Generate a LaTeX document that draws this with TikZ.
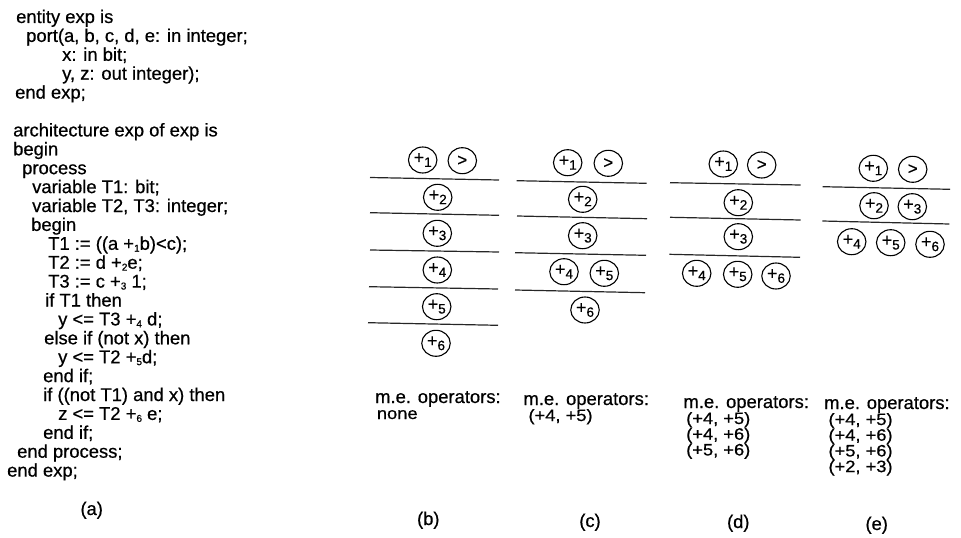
\documentclass[tikz,border=0pt]{standalone}
\usepackage{fontspec}
\setmainfont{Liberation Sans}[FakeBold=0.6]
\usetikzlibrary{shapes.geometric}
\newcommand\codefont{\fontsize{18.4}{18.9}\selectfont}
\newcommand\listfont{\fontsize{16.5}{16.5}\selectfont}
\newcommand\lst[1]{\scalebox{1.11}[1]{#1}}
\newcommand\subplus[1]{+\raisebox{-0.2ex}{\fontsize{10}{10}\selectfont #1}}
\newcommand\opplus[1]{{\fontsize{18}{18}\selectfont +\raisebox{-0.35ex}{\fontsize{13.5}{13.5}\selectfont #1}}}
\newcommand\opgt{{\fontsize{17}{17}\selectfont >}}
\tikzset{
  code/.style={anchor=base west, inner sep=0pt, font=\codefont},
  item/.style={anchor=base west, inner sep=0pt, font=\listfont},
  lbl/.style={anchor=base, inner sep=0pt, font=\codefont},
  op/.style={ellipse, draw, line width=1.1pt, minimum width=28.5pt, minimum height=26pt, inner sep=0pt},
  sepline/.style={line width=1.2pt, draw=black!85},
}
\begin{document}
\begin{tikzpicture}[x=1pt,y=-1pt]
\useasboundingbox (0,0) rectangle (961,538);
% ---------- (a) code ----------
\node[code] (l0)  at (16,23.0)  {entity exp is};
\node[code] (l1)  at (26,41.9)  {port(a, b, c, d, e: in integer;};
\node[code] (l2)  at (62,60.8)  {x: in bit;};
\node[code] (l3)  at (62,79.7)  {y, z: out integer);};
\node[code] (l4)  at (15,98.6)  {end exp;};
\node[code] (l6)  at (13,136.4) {architecture exp of exp is};
\node[code] (l7)  at (13,155.3) {begin};
\node[code] (l8)  at (22,174.2) {process};
\node[code] (l9)  at (32,193.1) {variable T1: bit;};
\node[code] (l10) at (32,212.0) {variable T2, T3: integer;};
\node[code] (l11) at (31,230.9) {begin};
\node[code] (l12) at (48,249.8) {T1 := ((a \subplus{1}b)<c);};
\node[code] (l13) at (48,268.7) {T2 := d \subplus{2}e;};
\node[code] (l14) at (48,287.6) {T3 := c \subplus{3} 1;};
\node[code] (l15) at (45,306.5) {if T1 then};
\node[code] (l16) at (58,325.4) {y <= T3 \subplus{4} d;};
\node[code] (l17) at (44,344.3) {else if (not x) then};
\node[code] (l18) at (58,363.2) {y <= T2 \subplus{5}d;};
\node[code] (l19) at (43,382.1) {end if;};
\node[code] (l20) at (43,401.0) {if ((not T1) and x) then};
\node[code] (l21) at (58,419.9) {z <= T2 \subplus{6} e;};
\node[code] (l22) at (43,438.8) {end if;};
\node[code] (l23) at (17,457.7) {end process;};
\node[code] (l24) at (7,476.6)  {end exp;};
\node[lbl] (la) at (91.7,515) {(a)};
% ---------- (b) ----------
\node[op] (b1) at (422.7,160) {\opplus{1}};
\node[op] (bg) at (462.3,160.7) {\opgt};
\draw[sepline] (370,177.5) -- (499,180);
\node[op] (b2) at (437.7,197.3) {\opplus{2}};
\draw[sepline] (370,212.7) -- (499,215.3);
\node[op] (b3) at (437.3,233.3) {\opplus{3}};
\draw[sepline] (370,250) -- (499,252);
\node[op] (b4) at (437.3,270) {\opplus{4}};
\draw[sepline] (369,286.7) -- (498,289);
\node[op] (b5) at (436.7,306.7) {\opplus{5}};
\draw[sepline] (368,322.7) -- (498,325.3);
\node[op] (b6) at (436,343.3) {\opplus{6}};
\node[code] (bt1) at (375,403) {m.e. operators:};
\node[item] (bt2) at (376.7,419) {\lst{none}};
\node[lbl] (lb) at (428.3,525) {(b)};
% ---------- (c) ----------
\node[op] (c1) at (567.7,162.7) {\opplus{1}};
\node[op] (cg) at (608.3,163.3) {\opgt};
\draw[sepline] (516.7,180.7) -- (646.7,183.3);
\node[op] (c2) at (582.7,199.3) {\opplus{2}};
\draw[sepline] (517,216) -- (647,218.7);
\node[op] (c3) at (582.7,235.7) {\opplus{3}};
\draw[sepline] (515,252.7) -- (646,255.3);
\node[op] (c4) at (564,271.7) {\opplus{4}};
\node[op] (c5) at (604.3,273.3) {\opplus{5}};
\draw[sepline] (515,290) -- (645,292.7);
\node[op] (c6) at (585,310) {\opplus{6}};
\node[code] (ct1) at (523.3,405) {m.e. operators:};
\node[item] (ct2) at (528.3,421) {\lst{(+4, +5)}};
\node[lbl] (lc) at (590,527) {(c)};
% ---------- (d) ----------
\node[op] (d1) at (723.3,164) {\opplus{1}};
\node[op] (dg) at (761.7,165) {\opgt};
\draw[sepline] (670,182.7) -- (800.7,185);
\node[op] (d2) at (738.3,202.7) {\opplus{2}};
\draw[sepline] (670,217.3) -- (800.7,220);
\node[op] (d3) at (738.3,236.7) {\opplus{3}};
\draw[sepline] (669.3,254.3) -- (800,257.3);
\node[op] (d4) at (696.7,273.3) {\opplus{4}};
\node[op] (d5) at (737.7,274.3) {\opplus{5}};
\node[op] (d6) at (776,276) {\opplus{6}};
\node[code] (dt1) at (683.3,408) {m.e. operators:};
\node[item] (dt2) at (686,424) {\lst{(+4, +5)}};
\node[item] (dt3) at (686,439.7) {\lst{(+4, +6)}};
\node[item] (dt4) at (686,455.4) {\lst{(+5, +6)}};
\node[lbl] (ld) at (738.3,528) {(d)};
% ---------- (e) ----------
\node[op] (e1) at (873.3,168.3) {\opplus{1}};
\node[op] (eg) at (912.7,169.3) {\opgt};
\draw[sepline] (822.7,186.7) -- (950,189.3);
\node[op] (e2) at (874,205.7) {\opplus{2}};
\node[op] (e3) at (912.3,206.7) {\opplus{3}};
\draw[sepline] (822.3,221) -- (949.3,224);
\node[op] (e4) at (851.7,241.7) {\opplus{4}};
\node[op] (e5) at (890.7,242.7) {\opplus{5}};
\node[op] (e6) at (930,244.3) {\opplus{6}};
\node[code] (et1) at (824,409) {m.e. operators:};
\node[item] (et2) at (828.3,425) {\lst{(+4, +5)}};
\node[item] (et3) at (828.3,440.7) {\lst{(+4, +6)}};
\node[item] (et4) at (828.3,456.4) {\lst{(+5, +6)}};
\node[item] (et5) at (828.3,472.1) {\lst{(+2, +3)}};
\node[lbl] (le) at (876.7,530) {(e)};
\end{tikzpicture}
\end{document}
